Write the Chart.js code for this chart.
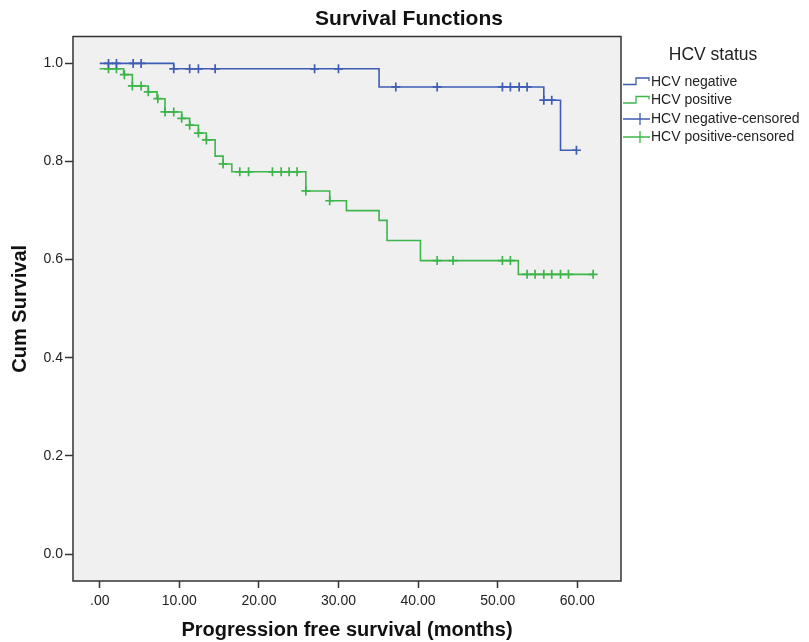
<!DOCTYPE html>
<html>
<head>
<meta charset="utf-8">
<script src="https://cdn.jsdelivr.net/npm/chart.js@4.4.1/dist/chart.umd.min.js"></script>
<style>
  html, body { margin: 0; padding: 0; background: #fff; }
  #wrap { width: 809px; height: 642px; }
</style>
</head>
<body>
<div id="wrap"><canvas id="survivalChart" width="809" height="642"></canvas></div>
<script>
// Kaplan-Meier steps (time in months, level after the step)
const negEventTimes = [0, 9.3, 35.1, 55.8, 57.9, 59.9];
const negSurvival = [1.0, 0.989, 0.952, 0.925, 0.823, 0.823];
const negCensored = [1.1, 2.1, 4.2, 5.2, 9.3, 11.3, 12.4, 14.5, 27.0, 30.0, 37.2, 42.4, 50.6, 51.6, 52.7, 53.7, 55.8, 56.8, 59.9];

const posEventTimes = [0, 3.0, 4.1, 6.1, 7.2, 8.2, 10.3, 11.3, 12.4, 13.4, 14.5, 15.5, 16.6, 25.9, 28.9, 31.0, 35.1, 36.1, 40.3, 52.6, 62.0];
const posSurvival = [0.989, 0.977, 0.954, 0.942, 0.928, 0.901, 0.888, 0.874, 0.858, 0.844, 0.811, 0.795, 0.779, 0.740, 0.720, 0.700, 0.680, 0.639, 0.598, 0.570, 0.570];
const posCensored = [1.1, 2.1, 3.1, 4.1, 5.2, 6.1, 7.3, 8.2, 9.3, 10.3, 11.3, 12.4, 13.4, 15.5, 17.6, 18.7, 21.7, 22.8, 23.8, 24.8, 25.9, 28.9, 42.4, 44.4, 50.6, 51.6, 53.7, 54.7, 55.8, 56.8, 57.9, 58.9, 62.0];

const xTickValues = [0, 10, 20, 30, 40, 50, 60];
const yTickValues = [0, 0.2, 0.4, 0.6, 0.8, 1.0];

const groupLabels = ['HCV negative', 'HCV positive', 'HCV negative-censored', 'HCV positive-censored'];

const colorNeg = '#3f5cb4';
const colorPos = '#3cb54a';
const fontMain = '"Liberation Sans", Arial, sans-serif';

// level of the step function at time t
const levelAt = (times, levels, t) => {
    let v = levels[0];
    times.forEach((tt, i) => { if (tt <= t) v = levels[i]; });
    return v;
};

const stepPoints = (times, levels) => times.map((t, i) => ({ x: t, y: levels[i] }));
const censorPoints = (cens, times, levels) => cens.map(t => ({ x: t, y: levelAt(times, levels, t) }));

// grey plot background, frame and the chart title
const plotFrame = {
    id: 'plotFrame',
    beforeDraw(chart) {
        const { ctx, chartArea: a } = chart;
        ctx.save();
        ctx.fillStyle = '#f0f0f0';
        ctx.fillRect(a.left, a.top, a.right - a.left, a.bottom - a.top);
        ctx.restore();
    },
    afterDraw(chart) {
        const { ctx, chartArea: a } = chart;
        ctx.save();
        ctx.strokeStyle = '#333';
        ctx.lineWidth = 1.5;
        ctx.strokeRect(a.left, a.top, a.right - a.left, a.bottom - a.top);
        ctx.fillStyle = '#111';
        ctx.font = 'bold 21px ' + fontMain;
        ctx.textAlign = 'center';
        ctx.textBaseline = 'middle';
        ctx.fillText('Survival Functions', 409, 19);
        ctx.restore();
    }
};

// SPSS style legend on the right
const sideLegend = {
    id: 'sideLegend',
    afterDraw(chart) {
        const { ctx } = chart;
        const x0 = 623, textX = 651;
        ctx.save();
        ctx.fillStyle = '#222';
        ctx.font = '17.5px ' + fontMain;
        ctx.textAlign = 'center';
        ctx.textBaseline = 'middle';
        ctx.fillText('HCV status', 713, 55);

        ctx.font = '14px ' + fontMain;
        ctx.textAlign = 'left';
        const rows = [82, 100.5, 119, 137];
        const cols = [colorNeg, colorPos, colorNeg, colorPos];
        rows.forEach((y, i) => {
            ctx.strokeStyle = cols[i];
            ctx.lineWidth = 1.3;
            ctx.beginPath();
            if (i < 2) {
                ctx.moveTo(x0, y + 2.5);
                ctx.lineTo(x0 + 13, y + 2.5);
                ctx.lineTo(x0 + 13, y - 4);
                ctx.lineTo(x0 + 26, y - 4);
                ctx.lineTo(x0 + 26, y - 1);
            } else {
                ctx.moveTo(x0, y);
                ctx.lineTo(x0 + 27, y);
                ctx.moveTo(x0 + 17, y - 6);
                ctx.lineTo(x0 + 17, y + 6);
            }
            ctx.stroke();
            ctx.fillStyle = '#222';
            ctx.fillText(groupLabels[i], textX, y);
        });
        ctx.restore();
    }
};

const ctxSurv = document.getElementById('survivalChart');
new Chart(ctxSurv, {
    type: 'line',
    data: {
        datasets: [
            {
                label: groupLabels[0],
                data: stepPoints(negEventTimes, negSurvival),
                borderColor: colorNeg,
                borderWidth: 1.6,
                stepped: 'before',
                pointRadius: 0,
                fill: false
            },
            {
                label: groupLabels[1],
                data: stepPoints(posEventTimes, posSurvival),
                borderColor: colorPos,
                borderWidth: 1.6,
                stepped: 'before',
                pointRadius: 0,
                fill: false
            },
            {
                label: groupLabels[2],
                data: censorPoints(negCensored, negEventTimes, negSurvival),
                showLine: false,
                pointStyle: 'cross',
                pointRadius: 4.5,
                pointBorderWidth: 1.7,
                borderColor: colorNeg,
                pointBorderColor: colorNeg
            },
            {
                label: groupLabels[3],
                data: censorPoints(posCensored, posEventTimes, posSurvival),
                showLine: false,
                pointStyle: 'cross',
                pointRadius: 4.5,
                pointBorderWidth: 1.7,
                borderColor: colorPos,
                pointBorderColor: colorPos
            }
        ]
    },
    options: {
        responsive: false,
        animation: false,
        devicePixelRatio: 1,
        layout: { padding: { left: 0, right: 188, top: 36.5, bottom: 0 } },
        plugins: {
            legend: { display: false },
            tooltip: { enabled: false },
            title: { display: false }
        },
        scales: {
            x: {
                type: 'linear',
                min: -3.36,
                max: 65.5,
                afterBuildTicks: scale => { scale.ticks = xTickValues.map(v => ({ value: v })); },
                afterFit: scale => { scale.height = 61; },
                ticks: {
                    color: '#222',
                    padding: 5,
                    maxRotation: 0,
                    font: { family: fontMain, size: 14 },
                    callback: v => v === 0 ? '.00' : v.toFixed(2)
                },
                grid: { drawOnChartArea: false, drawTicks: true, tickLength: 7, tickColor: '#333', tickWidth: 1.5 },
                border: { display: false },
                title: {
                    display: true,
                    text: 'Progression free survival (months)',
                    color: '#111',
                    font: { family: fontMain, size: 20, weight: 'bold' },
                    padding: { top: 0, bottom: 0 }
                }
            },
            y: {
                type: 'linear',
                min: -0.055,
                max: 1.0548,
                afterBuildTicks: scale => { scale.ticks = yTickValues.map(v => ({ value: v })); },
                afterFit: scale => { scale.width = 73; },
                ticks: {
                    color: '#222',
                    padding: 2,
                    font: { family: fontMain, size: 14 },
                    callback: v => v.toFixed(1)
                },
                grid: { drawOnChartArea: false, drawTicks: true, tickLength: 8, tickColor: '#333', tickWidth: 1.5 },
                border: { display: false },
                title: {
                    display: true,
                    text: 'Cum Survival',
                    color: '#111',
                    font: { family: fontMain, size: 20, weight: 'bold' },
                    padding: { top: 8, bottom: 0 }
                }
            }
        }
    },
    plugins: [plotFrame, sideLegend]
});
</script>
</body>
</html>
